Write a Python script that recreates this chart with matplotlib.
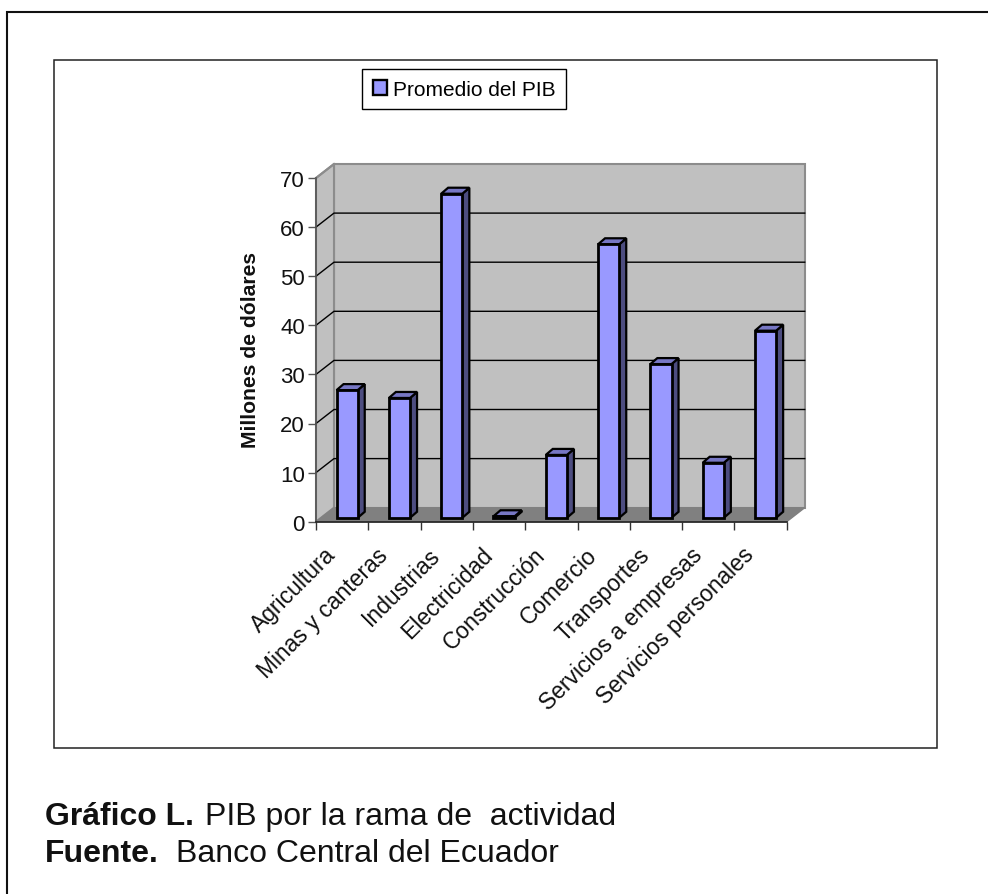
import matplotlib
matplotlib.use("Agg")
import matplotlib.pyplot as plt
from matplotlib.lines import Line2D
from matplotlib.patches import Polygon, Rectangle, Patch

categories = ["Agricultura", "Minas y canteras", "Industrias", "Electricidad", "Construcción",
              "Comercio", "Transportes", "Servicios a empresas", "Servicios personales"]
values = [26.0, 24.4, 66.0, 0.3, 12.8, 55.7, 31.3, 11.2, 38.1]
y_ticks = [0, 10, 20, 30, 40, 50, 60, 70]
legend_label = "Promedio del PIB"
y_title = "Millones de dólares"

W, H = 988, 895
plt.rcParams["font.family"] = ["Liberation Sans", "DejaVu Sans"]
fig = plt.figure(figsize=(W / 100, H / 100), dpi=100, facecolor="white")


def fx(p):
    return p / W


def fy(p):
    return 1 - p / H


fig.add_artist(Line2D([fx(7), fx(7), 1], [0, fy(13), fy(13)], transform=fig.transFigure,
                      color="#111111", linewidth=1.5, solid_joinstyle="miter"))
fig.add_artist(Rectangle((fx(54), fy(749)), fx(883), fy(61) - fy(749), transform=fig.transFigure,
                         fill=False, edgecolor="#222222", linewidth=1.1))

L, R, T, B = 316.0, 786.7, 179.0, 522.7
ax = fig.add_axes([fx(L), fy(B), fx(R - L), fy(T) - fy(B)])
n = len(categories)
ax.set_xlim(0, n)
ax.set_ylim(0, 70)
ax.patch.set_visible(False)

# depth of the 3D box in data units
DX = 18.0 / ((R - L) / n)
DY = 14.0 / ((B - T) / 70)
top = 70

wall = "#c0c0c0"
ax.add_patch(Polygon([(DX, DY), (n + DX, DY), (n + DX, top + DY), (DX, top + DY)], closed=True,
                     facecolor=wall, edgecolor="#8c8c8c", linewidth=1.5, clip_on=False, zorder=1))
ax.add_patch(Polygon([(0, 0), (DX, DY), (DX, top + DY), (0, top)], closed=True,
                     facecolor=wall, edgecolor="#8c8c8c", linewidth=1.5, clip_on=False, zorder=1))
ax.add_patch(Polygon([(0, 0), (n, 0), (n + DX, DY), (DX, DY)], closed=True,
                     facecolor="#808080", edgecolor="#808080", linewidth=1, clip_on=False, zorder=1.5))

for t in y_ticks[1:-1]:
    ax.plot([0, DX, n + DX], [t, t + DY, t + DY], color="black", linewidth=1.0, clip_on=False, zorder=2)
ax.plot([0, DX], [70, 70 + DY], color="#8c8c8c", linewidth=1.5, clip_on=False, zorder=2)

face = "#9999ff"
side = "#4d4d80"
lid = "#7777c4"
shift = 5.0 / ((R - L) / n)
base = 0.8
w = 0.405
ddx = 7.0 / ((R - L) / n)
ddy = 6.0 / ((B - T) / 70)
lw = 2.0
for i, v in enumerate(values):
    x0 = i + 0.5 + shift - w / 2
    x1 = x0 + w
    y1 = base + v
    ax.bar(x0, v, width=w, bottom=base, align="edge", color=face, edgecolor="black",
           linewidth=lw, clip_on=False, zorder=4)
    ax.add_patch(Polygon([(x1, base), (x1 + ddx, base + ddy), (x1 + ddx, y1 + ddy), (x1, y1)], closed=True,
                         facecolor=side, edgecolor="black", linewidth=lw * 0.8, clip_on=False, zorder=3.5))
    ax.add_patch(Polygon([(x0, y1), (x1, y1), (x1 + ddx, y1 + ddy), (x0 + ddx, y1 + ddy)], closed=True,
                         facecolor=lid, edgecolor="black", linewidth=lw * 0.8, clip_on=False, zorder=3.5))

for s in ["top", "right"]:
    ax.spines[s].set_visible(False)
for s in ["left", "bottom"]:
    ax.spines[s].set_linewidth(1.2)
    ax.spines[s].set_zorder(6)
ax.spines["left"].set_color("#555555")
ax.spines["bottom"].set_color("#222222")

ax.set_yticks(y_ticks)
ax.set_yticklabels([str(t) for t in y_ticks])
ax.set_xticks(range(n + 1))
ax.set_xticklabels([])
ax.tick_params(axis="y", length=6, width=1, color="#555555", labelsize=16, pad=2, labelcolor="#111111")
ax.tick_params(axis="x", length=6, width=1, color="#333333")

for i, c in enumerate(categories):
    ax.annotate(c, xy=(i + 0.5, 0), xycoords="data", xytext=(-7, -21), textcoords="offset points",
                rotation=45, rotation_mode="anchor", ha="right", va="center", fontsize=16.5, color="#111111",
                annotation_clip=False)

fig.text(fx(251), fy(350), y_title, rotation=90, ha="center", va="center", fontsize=15.2, fontweight="bold",
         color="#111111")

leg = fig.legend(handles=[Patch(facecolor=face, edgecolor="black", linewidth=1.7, label=legend_label)],
                 loc="center", bbox_to_anchor=(fx(464), fy(90)), bbox_transform=fig.transFigure,
                 fontsize=15, fancybox=False, framealpha=1, edgecolor="black", borderpad=0.5,
                 handlelength=0.7, handleheight=0.7, handletextpad=0.25, borderaxespad=0)
leg.get_frame().set_linewidth(1.0)

fig.text(fx(45), fy(825), "Gráfico L.", fontsize=23, fontweight="bold", ha="left", va="baseline", color="#111111")
fig.text(fx(205), fy(825), "PIB por la rama de  actividad", fontsize=23, ha="left", va="baseline", color="#111111")
fig.text(fx(45), fy(862), "Fuente.", fontsize=23, fontweight="bold", ha="left", va="baseline", color="#111111")
fig.text(fx(176), fy(862), "Banco Central del Ecuador", fontsize=23, ha="left", va="baseline", color="#111111")

fig.savefig("out.png", dpi=100, facecolor="white")
